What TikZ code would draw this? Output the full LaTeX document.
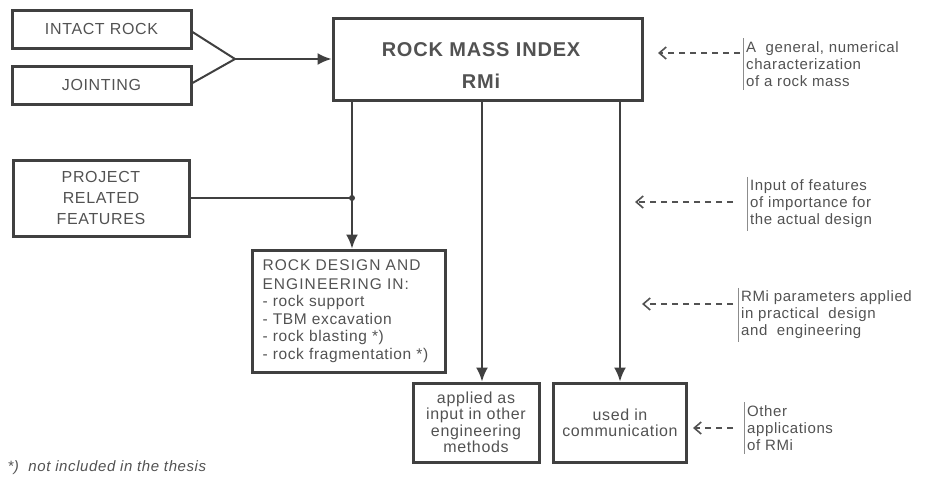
\documentclass[tikz,border=0pt]{standalone}
\usepackage{fontspec}
\setmainfont{Liberation Sans}[LetterSpace=4]
\usetikzlibrary{arrows.meta,calc}
\definecolor{ink}{gray}{0.32}
\definecolor{frame}{gray}{0.25}
\definecolor{rule}{gray}{0.55}

\begin{document}
\begin{tikzpicture}[x=1pt,y=-1pt,
    every node/.style={text=ink, font=\fontsize{16}{17.5}\selectfont},
    box/.style={draw=frame, line width=3pt, align=center, inner sep=0pt},
    link/.style={draw=frame, line width=2pt},
    tip/.style={-{Latex[length=14pt,width=12pt]}},
    dasharrow/.style={draw=ink, line width=1.3pt, dash pattern=on 6pt off 5pt,
      -{Straight Barb[length=7pt,width=12pt,line width=1.6pt]}},
    note/.style={anchor=west, align=left, inner xsep=3pt, inner ysep=3pt,
      font=\fontsize{15}{17}\selectfont},
    bar/.style={draw=rule, line width=0.8pt}]
  \useasboundingbox (0,0) rectangle (929,479);

  % input boxes
  \node[box, minimum width=179pt, minimum height=38pt] (intact) at (101.5,29) {INTACT ROCK};
  \node[box, minimum width=179pt, minimum height=38pt] (joint) at (101.5,85) {JOINTING};
  \node[box, minimum width=176pt, minimum height=76pt,
        font=\fontsize{16}{21}\selectfont] (project) at (101,198) {PROJECT\\RELATED\\FEATURES};

  % index box
  \node[box, minimum width=309pt, minimum height=82pt] (rmi) at (487.5,59) {};
  \node[align=center, font=\bfseries\fontsize{20}{24}\selectfont] (rmitext) at (481,66)
    {ROCK MASS INDEX\\[8pt]RMi};

  % output boxes
  \node[box, minimum width=193pt, minimum height=122pt, align=left, text width=172pt,
        font=\fontsize{15.5}{17.5}\selectfont] (design) at (348.5,311)
    {{\addfontfeature{LetterSpace=7}ROCK DESIGN AND}\\[1.5pt]
     {\addfontfeature{LetterSpace=7}ENGINEERING IN:}\\- rock support\\- TBM excavation\\
     - rock blasting *)\\- rock fragmentation *)};
  \node[box, minimum width=126pt, minimum height=79pt,
        font=\fontsize{16}{16.5}\selectfont] (applied) at (476,422.5)
    {applied as\\input in other\\engineering\\methods};
  \node[box, minimum width=133pt, minimum height=79pt,
        font=\fontsize{16}{16}\selectfont] (used) at (620,422.5) {used in\\communication};

  % inputs merge into the index box
  \coordinate (merge) at (235,59);
  \draw[link] ([yshift=-3pt]intact.east) -- (merge) -- ([yshift=2pt]joint.east);
  \draw[link,tip] (merge) -- (rmi.west);

  % from the index box downwards
  \coordinate (fork) at (352,198);
  \draw[link] (rmi.south -| fork) -- (fork);
  \draw[link] (project.east) -- (fork);
  \draw[link,tip] (fork) -- (fork |- design.north);
  \fill[frame] (fork) circle (3pt);
  \coordinate (into) at ([xshift=6pt]applied.north);
  \draw[link,tip] (rmi.south -| into) -- (into);
  \draw[link,tip] (rmi.south -| used.north) -- (used.north);

  % annotations on the right
  \foreach \ypos/\xbar/\xtip/\yarr/\gap/\txt [count=\i] in {
      64/743/658/53/3/{A\ \ general, numerical\\characterization\\of a rock mass},
      204/747/635/202/14/{Input of features\\of importance for\\the actual design},
      315/738/642/304/5/{RMi parameters applied\\in practical\ \ design\\and\ \ engineering},
      428/744/693/428/11/{Other\\applications\\of RMi}} {
    \node[note] (note\i) at (\xbar,\ypos) {\txt};
    \draw[bar] (note\i.north west) -- (note\i.south west);
    \coordinate (tip\i) at (\xtip,\yarr);
    \draw[dasharrow] ($(note\i.west |- tip\i)+(-\gap,0)$) -- (tip\i);
  }

  % footnote
  \node[anchor=west, font=\itshape\fontsize{15}{17}\selectfont] (foot) at (4,468)
    {*)\ \ not included in the thesis};
\end{tikzpicture}
\end{document}
